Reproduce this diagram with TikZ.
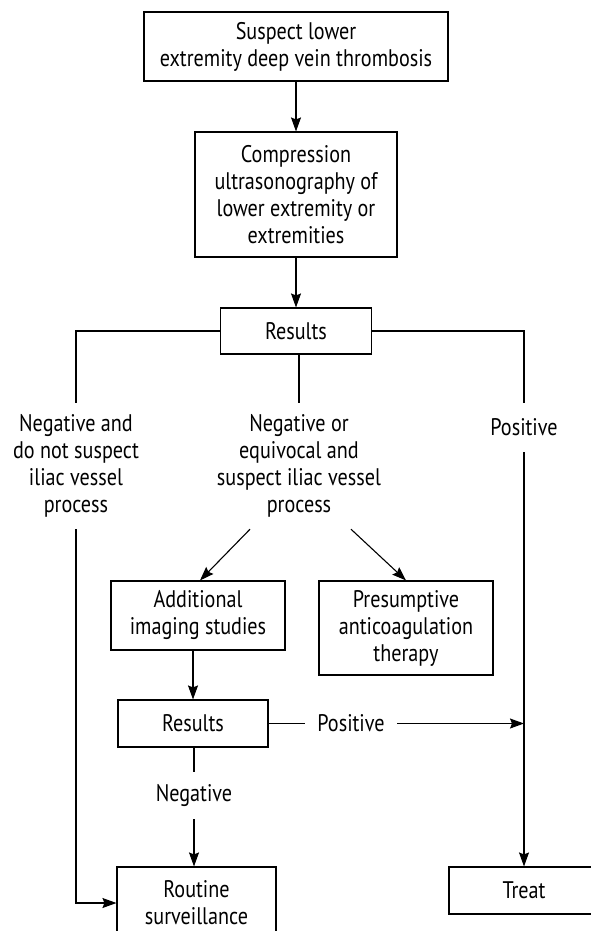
\documentclass[tikz,border=0pt]{standalone}
\usepackage{fontspec}
\setmainfont[FakeStretch=0.84]{PT Sans}
\usetikzlibrary{arrows.meta}
\begin{document}
\begin{tikzpicture}[x=1pt, y=-1pt, >={Stealth[length=14pt, width=10pt, inset=2pt]},
    every node/.style={font=\fontsize{24}{27}\selectfont, align=center, inner sep=0pt},
    box/.style={draw, line width=1.1pt},
    link/.style={line width=1.1pt}]
    \useasboundingbox (0,0) rectangle (591,931);
    \clip (0,0) rectangle (591,931);

    % top of the chart
    \node[box, minimum width=304pt, minimum height=69pt] (suspect) at (296, 46.5) {Suspect lower\\extremity deep vein thrombosis};
    \node[box, minimum width=202pt, minimum height=125pt] (cus) at (296, 194.5) {Compression\\ultrasonography of\\lower extremity or\\extremities};
    \node[box, minimum width=151pt, minimum height=46pt] (results) at (296, 331) {Results};

    \draw[link, ->] (suspect.south -| cus) -- (cus.north);
    \draw[link, ->] (cus.south) -- (results.north);

    % three outcomes
    \node[minimum height=126pt] (negative) at (76, 466) {Negative and\\do not suspect\\iliac vessel\\process};
    \node[minimum height=126pt] (equivocal) at (299, 466) {Negative or\\equivocal and\\suspect iliac vessel\\process};
    \node[minimum height=49pt] (positive) at (524, 427.5) {Positive};

    \draw[link] (results.west) -| (negative.north);
    \draw[link] (results.south -| equivocal) -- (equivocal.north);
    \draw[link] (results.east) -| (positive.north);

    % iliac vessel branch
    \node[box, minimum width=174pt, minimum height=69pt] (imaging) at (198, 615.5) {Additional\\imaging studies};
    \node[box, minimum width=174pt, minimum height=94pt] (anticoag) at (406, 628) {Presumptive\\anticoagulation\\therapy};
    \draw[link, ->] ([xshift=-49pt]equivocal.south) -- ([xshift=2pt]imaging.north);
    \draw[link, ->] ([xshift=52pt]equivocal.south) -- (anticoag.north);

    \node[box, minimum width=150pt, minimum height=47pt] (results2) at (193, 723.5) {Results};
    \draw[link, ->] (imaging.south -| results2) -- (results2.north);

    \node[minimum width=92pt, minimum height=30pt] (positive2) at (351, 723.5) {Positive};
    \node[minimum height=47pt] (negative2) at (194, 795.5) {Negative};

    % end points
    \node[box, minimum width=159pt, minimum height=72pt] (routine) at (196.5, 903) {Routine\\surveillance};
    \node[box, minimum width=150pt, minimum height=47pt] (treat) at (524, 890.5) {Treat};

    \draw[link] (results2.east) -- (positive2.west);
    \draw[link, ->] (positive2.east) -- (positive2 -| treat);
    \draw[link, ->] (positive.south) -- (treat.north);
    \draw[link] (results2.south -| negative2) -- (negative2.north);
    \draw[link, ->] (negative2.south) -- (routine.north -| negative2);
    \draw[link, ->] (negative.south) |- (routine.west);
\end{tikzpicture}
\end{document}
